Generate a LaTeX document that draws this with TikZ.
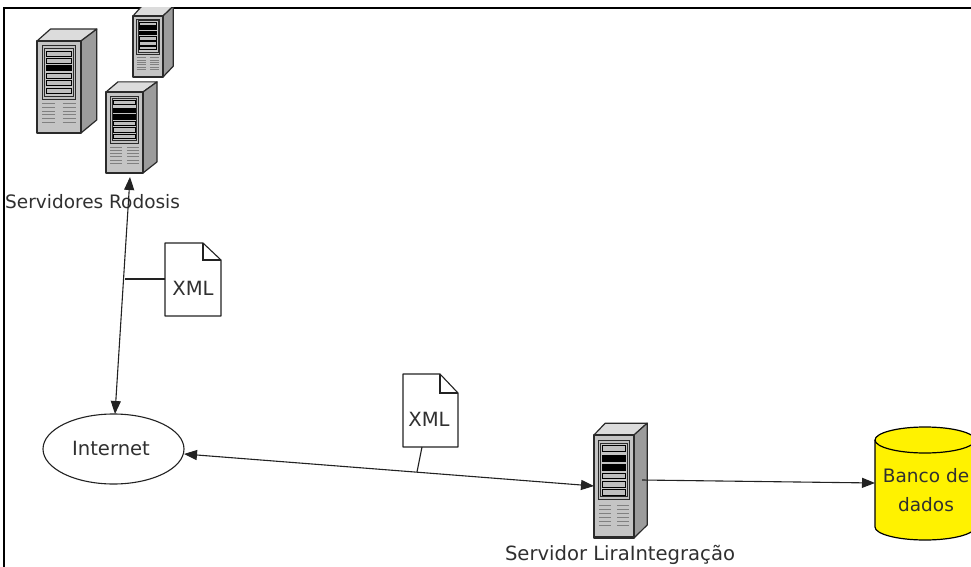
\documentclass[tikz,border=0pt]{standalone}
\usepackage{fontspec}
\setmainfont{DejaVu Sans}
\usetikzlibrary{arrows.meta,shapes.geometric}
\definecolor{srvfront}{HTML}{C4C4C4}
\definecolor{srvside}{HTML}{9C9C9C}
\definecolor{srvtop}{HTML}{DCDCDC}
\definecolor{srvdark}{HTML}{2A2A2A}
\definecolor{lineink}{HTML}{222222}
\definecolor{txtink}{HTML}{303030}
\tikzset{
  conn/.style={draw=lineink,line width=1.1pt},
  twoway/.style={conn,{Triangle[length=13pt,width=10pt]}-{Triangle[length=13pt,width=10pt]}},
  oneway/.style={conn,-{Triangle[length=13pt,width=10pt]}},
  lbl/.style={text=txtink,font=\fontsize{18.5}{22}\selectfont,inner sep=0pt,align=center},
  lblbig/.style={lbl,font=\fontsize{19.6}{23}\selectfont},
  srvline/.style={draw=srvdark,line width=1.2pt,line join=round},
}
% x0 y0 x1 y1: front face; #5 #6: depth right and up, in fractions of the face; #7: rows
\newcommand{\srvbox}[7]{%
  \pgfmathsetmacro{\srvw}{#3-#1}\pgfmathsetmacro{\srvh}{#4-#2}%
  \begin{scope}[shift={(#1,#2)},x=\srvw pt,y={(0pt,-\srvh pt)}]
    \fill[srvtop,srvline] (0,0) -- (#5*.85,-#6) -- (1+#5,-#6) -- (1,0) -- cycle;
    \fill[srvside,srvline] (1,0) -- (1+#5,-#6) -- (1+#5,1-#6*1.1) -- (1,1) -- cycle;
    \fill[srvfront,srvline] (0,0) rectangle (1,1);
    \fill[white!75!black,draw=srvdark,line width=.9pt] (.12,.05) rectangle (.88,.63);
    \fill[srvfront,draw=srvdark,line width=.8pt] (.17,.08) rectangle (.83,.60);
    \foreach \rowy/\rowc in {#7}{
      \fill[\rowc,draw=black,line width=.8pt] (.21,\rowy) rectangle (.79,\rowy+.055);
    }
    \foreach \venty in {.68,.72,.76,.80,.84,.88}{
      \draw[gray,line width=.7pt] (.12,\venty) -- (.42,\venty);
      \draw[gray,line width=.7pt] (.58,\venty) -- (.88,\venty);
    }
    \fill[srvdark] (0,.985) rectangle (1,1);
  \end{scope}}
\begin{document}
\begin{tikzpicture}[x=1pt,y=-1pt]
\useasboundingbox (0,0) rectangle (971,567);
\begin{scope}
\clip (0,0) rectangle (971,567);
\fill[white] (0,0) rectangle (971,567);

% frame
\draw[black,line width=1.4pt] (4,567) -- (4,8) -- (971,8);

% servers
\begin{scope}
  \clip (4,8) rectangle (971,567);
  \srvbox{133}{16}{163}{77}{.34}{.16}{.10/lightgray,.17/black,.25/black,.34/lightgray,.42/lightgray,.50/lightgray}
\end{scope}
\srvbox{37}{41}{81}{133}{.36}{.13}{.11/lightgray,.19/lightgray,.27/black,.35/lightgray,.43/lightgray,.51/lightgray}
\srvbox{106}{92}{143}{173}{.38}{.125}{.10/lightgray,.20/black,.28/black,.36/lightgray,.44/lightgray,.52/lightgray}
\srvbox{594}{435}{634}{538}{.33}{.115}{.10/lightgray,.20/black,.29/black,.37/lightgray,.45/lightgray,.53/lightgray}

% server connection points
\coordinate (rodosis) at (130,177);
\coordinate (liraIn) at (594,486);
\coordinate (liraOut) at (642,480);
\coordinate (dbIn) at (875,483);
\coordinate (netTop) at (115,414);
\coordinate (netRight) at (184,454);
\coordinate (tapA) at (125,279);
\coordinate (tapB) at (417,472);

\node[lbl,anchor=west] (rodosisLabel) at (5,202) {Servidores Rodosis};
\node[lblbig] (liraLabel) at (620,555) {Servidor LiraIntegração};

% internet
\node[draw=lineink,line width=1.1pt,ellipse,minimum width=141pt,minimum height=70pt,inner sep=0pt] (net) at (113.5,449) {};
\node[lblbig] (netLabel) at (111,448) {Internet};

% database
\path[fill=yellow,draw=black,line width=1.2pt] (875,440) -- (875,527)
  .. controls (875,534) and (897,540) .. (925,540)
  .. controls (953,540) and (975,534) .. (975,527) -- (975,440)
  .. controls (975,433) and (953,427) .. (925,427)
  .. controls (897,427) and (875,433) .. (875,440) -- cycle;
\draw[black,line width=1.2pt] (875,440) .. controls (875,447) and (897,453) .. (925,453)
  .. controls (953,453) and (975,447) .. (975,440);
\node[lbl] (dbLabel) at (926,490) {Banco de\\[7pt]dados};

% documents
\path[fill=white,draw=lineink,line width=1.1pt,line join=round] (165,243) -- (203,243) -- (221,260) -- (221,316) -- (165,316) -- cycle;
\draw[lineink,line width=1.1pt] (203,243) -- (203,260) -- (221,260);
\node[lblbig] (xmlA) at (193,288) {XML};
\path[fill=white,draw=lineink,line width=1.1pt,line join=round] (403,374) -- (440,374) -- (458,393) -- (458,447) -- (403,447) -- cycle;
\draw[lineink,line width=1.1pt] (440,374) -- (440,393) -- (458,393);
\node[lblbig] (xmlB) at (429,419) {XML};
\coordinate (docA) at (165,279);
\coordinate (docB) at (422,447);

% connectors
\draw[twoway] (rodosis) -- (netTop);
\draw[twoway] (netRight) -- (liraIn);
\draw[oneway] (liraOut) -- (dbIn);
\draw[conn] (docA) -- (tapA);
\draw[conn] (docB) -- (tapB);
\end{scope}
\end{tikzpicture}
\end{document}
